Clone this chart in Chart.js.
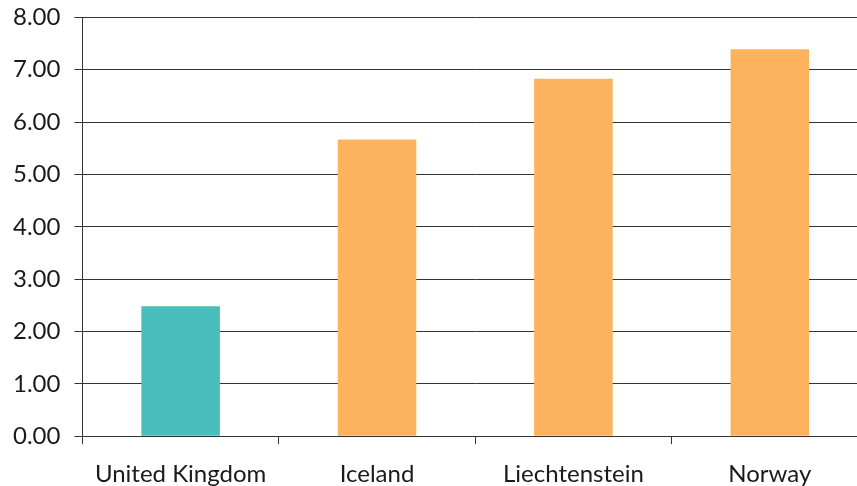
<!DOCTYPE html>
<html>
<head>
<meta charset="utf-8">
<script src="https://cdn.jsdelivr.net/npm/chart.js@4"></script>
<style>
  html, body { margin: 0; padding: 0; background: #fff; overflow: hidden; }
  #wrap { position: relative; top: -11px; left: -9px; width: 877px; height: 516px; }
</style>
</head>
<body>
<div id="wrap"><canvas id="chart"></canvas></div>
<script>
// countries and their scores
const countries = ['United Kingdom', 'Iceland', 'Liechtenstein', 'Norway'];
const scores = [2.48, 5.67, 6.83, 7.39];
const barColors = ['#48bfbc', '#fdb35e', '#fdb35e', '#fdb35e'];

const AXIS = '#333333';
const FONT = { family: 'Lato, "Open Sans", sans-serif', size: 24 };

new Chart(document.getElementById('chart'), {
  type: 'bar',
  data: {
    labels: countries,
    datasets: [{
      data: scores,
      backgroundColor: barColors,
      borderWidth: 0,
      barPercentage: 0.4,
      categoryPercentage: 1.0,
    }]
  },
  options: {
    responsive: true,
    maintainAspectRatio: false,
    animation: false,
    layout: { padding: { left: 8, top: 0, right: 0, bottom: 0 } },
    plugins: { legend: { display: false }, tooltip: { enabled: false } },
    scales: {
      x: {
        offset: true,
        grid: { offset: true, drawOnChartArea: false, drawTicks: true, tickLength: 8, color: AXIS, lineWidth: 1 },
        border: { display: true, color: AXIS, width: 1 },
        ticks: { font: FONT, color: '#1a1a1a', padding: 16, maxRotation: 0 },
      },
      y: {
        min: 0,
        max: 8,
        grid: { color: AXIS, lineWidth: 1, tickLength: 8 },
        border: { display: true, color: AXIS, width: 1 },
        ticks: {
          stepSize: 1,
          font: FONT,
          color: '#1a1a1a',
          padding: 14,
          callback: v => Number(v).toFixed(2),
        },
      }
    }
  }
});
</script>
</body>
</html>
